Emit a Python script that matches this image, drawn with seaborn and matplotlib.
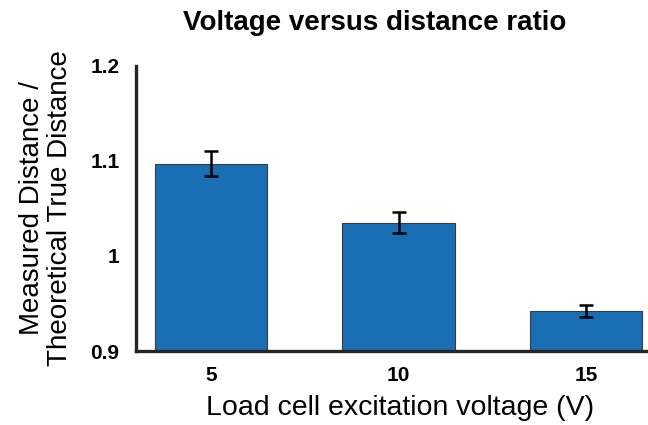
import matplotlib
matplotlib.use("Agg")
import matplotlib.pyplot as plt
import seaborn as sns
import pandas as pd

# Excitation voltages (V) and the mean measured/theoretical distance ratio
voltages = ["5", "10", "15"]
ratios = [1.097, 1.035, 0.942]
errors = [0.013, 0.011, 0.006]

y_ticks = [0.9, 1.0, 1.1, 1.2]
y_tick_labels = ["0.9", "1", "1.1", "1.2"]

sns.set_theme(style="white")
plt.rcParams["font.family"] = ["Liberation Sans", "DejaVu Sans"]

df = pd.DataFrame({"voltage": voltages, "ratio": ratios})

fig = plt.figure(figsize=(6.48, 4.25), dpi=100)
ax = fig.add_axes([0.21, 0.174, 0.79, 0.671])

sns.barplot(data=df, x="voltage", y="ratio", order=voltages, color="#1a6fb4",
            saturation=1, width=0.6, edgecolor="#3a3a3a", linewidth=0.8,
            errorbar=None, ax=ax)
ax.errorbar(range(len(voltages)), ratios, yerr=errors, fmt="none",
            ecolor="black", elinewidth=1.8, capsize=4.8, capthick=1.8, zorder=5)

ax.set_ylim(0.9, 1.2)
ax.set_xlim(-0.4, 2.33)
ax.set_yticks(y_ticks)
ax.set_yticklabels(y_tick_labels)

for side in ["top", "right"]:
    ax.spines[side].set_visible(False)
for side in ["left", "bottom"]:
    ax.spines[side].set_color("#262626")
    ax.spines[side].set_linewidth(2.4)

ax.tick_params(axis="y", direction="out", length=6, width=2.4, color="#262626",
               labelsize=15, pad=6)
ax.tick_params(axis="x", length=0, labelsize=15, pad=11)
for lbl in ax.get_xticklabels() + ax.get_yticklabels():
    lbl.set_fontweight("bold")
    lbl.set_color("black")

ax.set_xlabel("Load cell excitation voltage (V)", fontsize=20.5, color="black",
              labelpad=7, x=0.515)
ax.set_ylabel("Measured Distance /\nTheoretical True Distance", fontsize=20,
              color="black", labelpad=12, linespacing=1.12)
ax.set_title("Voltage versus distance ratio", fontsize=20, fontweight="bold",
             color="black", pad=26, x=0.467)

fig.savefig("out.png", dpi=100)
